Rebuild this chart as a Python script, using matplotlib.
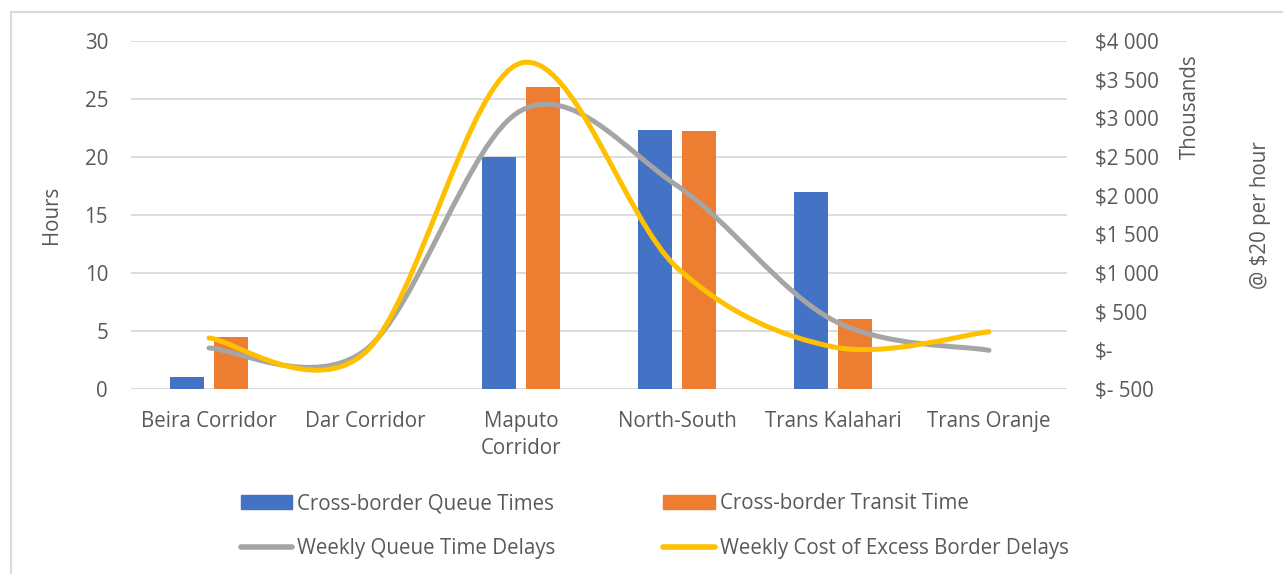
import numpy as np
import matplotlib.pyplot as plt
from matplotlib.path import Path
from matplotlib.patches import PathPatch, Patch, Rectangle
from matplotlib.lines import Line2D
from matplotlib.ticker import FuncFormatter

plt.rcParams['font.family'] = ['Open Sans', 'DejaVu Sans']

corridors = ['Beira Corridor', 'Dar Corridor', 'Maputo\nCorridor',
             'North-South', 'Trans Kalahari', 'Trans Oranje']
queue_hours = [1.0, 0, 20.0, 22.3, 17.0, 0]
transit_hours = [4.5, 0, 26.0, 22.2, 6.0, 0]
weekly_queue_delay = [30, 0, 3100, 2130, 390, 0]      # thousands $
weekly_cost = [160, -30, 3715, 1070, 45, 240]         # thousands $

BLUE = '#4472C4'
ORANGE = '#ED7D31'
GRAY = '#A5A5A5'
YELLOW = '#FFC000'
TXT = '#595959'
FS = 14.8


def smooth_path(xs, ys):
    # excel style smoothed line: bezier segments through every point
    pts = np.column_stack([xs, ys]).astype(float)
    n = len(pts)
    verts = [pts[0]]
    codes = [Path.MOVETO]
    for i in range(n - 1):
        p_prev = pts[i - 1] if i > 0 else pts[i]
        p_next2 = pts[i + 2] if i + 2 < n else pts[i + 1]
        c1 = pts[i] + (pts[i + 1] - p_prev) / 6.0
        c2 = pts[i + 1] - (p_next2 - pts[i]) / 6.0
        verts += [c1, c2, pts[i + 1]]
        codes += [Path.CURVE4] * 3
    return Path(verts, codes)


fig = plt.figure(figsize=(12.83, 5.74), dpi=100)
ax = fig.add_axes([131 / 1283, 1 - 389 / 574, 936 / 1283, 348 / 574])
ax2 = ax.twinx()

# chart frame
fig.patches.append(Rectangle((11 / 1283, -0.01), 1.1, 1 - 12 / 574 + 0.01,
                             transform=fig.transFigure, fill=False,
                             edgecolor='#D9D9D9', linewidth=1.5))

x = np.arange(len(corridors))
w = 0.22
ax.bar(x - 0.143, queue_hours, w, color=BLUE, zorder=2)
ax.bar(x + 0.143, transit_hours, w, color=ORANGE, zorder=2)

ax.set_xlim(-0.5, 5.5)
ax.set_ylim(0, 30)
ax.set_yticks(range(0, 31, 5))
ax.yaxis.grid(True, color='#D9D9D9', linewidth=1.3)
ax.set_axisbelow(True)
ax.set_xticks(x)
ax.set_xticklabels(corridors, fontsize=FS, color=TXT, linespacing=1.35)
ax.tick_params(axis='both', length=0, colors=TXT, labelsize=FS)
ax.tick_params(axis='y', pad=16.5)
ax.tick_params(axis='x', pad=16)
ax.set_ylabel('Hours', fontsize=FS, color=TXT)
ax.yaxis.set_label_coords(-69 / 936, 0.5)
for s in ax.spines.values():
    s.set_visible(False)
for s in ax2.spines.values():
    s.set_visible(False)

ax2.add_patch(PathPatch(smooth_path(x, weekly_queue_delay), fill=False,
                        edgecolor=GRAY, linewidth=3.6, capstyle='round', zorder=3))
ax2.add_patch(PathPatch(smooth_path(x, weekly_cost), fill=False,
                        edgecolor=YELLOW, linewidth=3.6, capstyle='round', zorder=4))
ax2.set_ylim(-500, 4000)
ax2.set_yticks(range(-500, 4001, 500))


def money(v, pos):
    if v == 0:
        return '$-'
    if v < 0:
        return '$- {:,}'.format(int(-v)).replace(',', ' ')
    return '${:,}'.format(int(v)).replace(',', ' ') if v >= 1000 else '$ {}'.format(int(v))


ax2.yaxis.set_major_formatter(FuncFormatter(money))
ax2.tick_params(axis='y', length=0, colors=TXT, labelsize=FS, pad=20)
fig.text(1190 / 1283, 1 - 107 / 574, 'Thousands', rotation=90, fontsize=FS,
         color=TXT, ha='center', va='center')
ax2.set_ylabel('@ $20 per hour', fontsize=FS, color=TXT)
ax2.yaxis.set_label_coords((1250 - 131) / 936, 0.5)

handles = [Patch(color=BLUE), Line2D([], [], color=GRAY, linewidth=4, solid_capstyle='round'),
           Patch(color=ORANGE), Line2D([], [], color=YELLOW, linewidth=4, solid_capstyle='round')]
labels = ['Cross-border Queue Times', 'Weekly Queue Time Delays',
          'Cross-border Transit Time', 'Weekly Cost of Excess Border Delays']
fig.legend(handles, labels, ncol=2, loc='center left',
           bbox_to_anchor=(222 / 1283, 1 - 526 / 574), frameon=False,
           fontsize=FS, labelcolor=TXT, handlelength=2.5, handleheight=0.7,
           handletextpad=0.25, columnspacing=5.25, labelspacing=1.15)

fig.savefig('out.png', dpi=100)
